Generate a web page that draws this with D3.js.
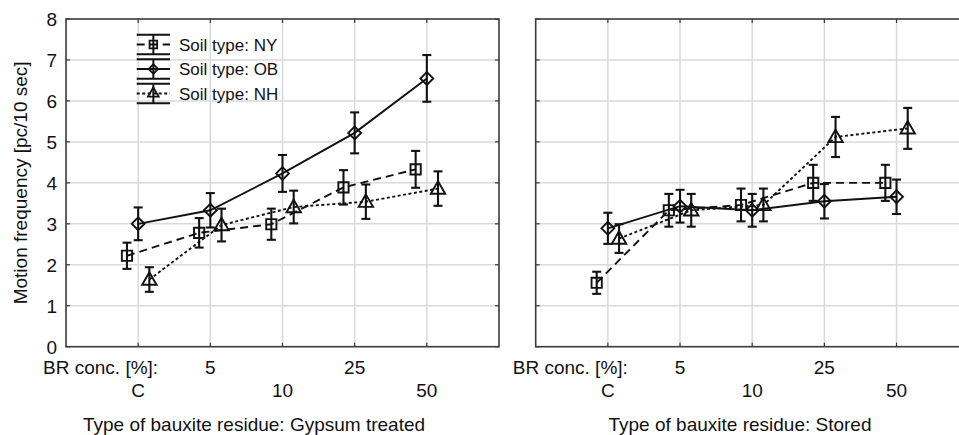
<!DOCTYPE html>
<html>
<head>
<meta charset="utf-8">
<script src="https://cdn.jsdelivr.net/npm/d3@7"></script>
<style>
  html, body { margin: 0; padding: 0; background: #fff; }
  svg { display: block; font-family: "Liberation Sans", Arial, sans-serif; }
</style>
</head>
<body>
<svg id="chart" width="959" height="435"></svg>
<script>
// ---------- data ----------
const categories = ["C", "5", "10", "25", "50"];
const yTicks = [0, 1, 2, 3, 4, 5, 6, 7, 8];
const seriesNames = ["Soil type: NY", "Soil type: OB", "Soil type: NH"];
const panelTitles = ["Type of bauxite residue: Gypsum treated", "Type of bauxite residue: Stored"];
const yLabel = "Motion frequency [pc/10 sec]";
const xRowLabel = "BR conc. [%]:";

// Gypsum treated
const gypsumNY = [2.22, 2.78, 2.99, 3.89, 4.33];
const gypsumNYErr = [0.32, 0.36, 0.38, 0.42, 0.45];
const gypsumOB = [3.00, 3.33, 4.23, 5.22, 6.55];
const gypsumOBErr = [0.40, 0.42, 0.45, 0.50, 0.57];
const gypsumNH = [1.64, 2.97, 3.41, 3.54, 3.86];
const gypsumNHErr = [0.30, 0.40, 0.40, 0.42, 0.42];
// Stored
const storedNY = [1.56, 3.33, 3.46, 4.00, 4.00];
const storedNYErr = [0.27, 0.40, 0.40, 0.44, 0.44];
const storedOB = [2.89, 3.43, 3.33, 3.55, 3.66];
const storedOBErr = [0.38, 0.40, 0.40, 0.42, 0.42];
const storedNH = [2.64, 3.33, 3.46, 5.12, 5.33];
const storedNHErr = [0.35, 0.40, 0.40, 0.49, 0.50];

// ---------- style ----------
const styles = [
  { dash: "8,5", symbol: d3.symbolSquare, size: 105, rot: 0, dy: 0, offset: -0.155 },
  { dash: null, symbol: d3.symbolSquare, size: 82, rot: 45, dy: 0, offset: 0 },
  { dash: "3,2.5", symbol: d3.symbolTriangle, size: 90, rot: 0, dy: 1, offset: 0.155 }
];

const panels = [
  { left: 66, right: 499, title: panelTitles[0], showY: true, titleX: 254,
    series: [[gypsumNY, gypsumNYErr], [gypsumOB, gypsumOBErr], [gypsumNH, gypsumNHErr]] },
  { left: 535.7, right: 968.7, title: panelTitles[1], showY: false, titleX: 740,
    series: [[storedNY, storedNYErr], [storedOB, storedOBErr], [storedNH, storedNHErr]] }
];

const plotTop = 19, plotBottom = 346.7;
const svg = d3.select("#chart");
const y = d3.scaleLinear().domain([0, 8]).range([plotBottom, plotTop]);
const gridColor = "#d9d9d9";
const frameColor = "#3a3a3a";
const ink = "#111";

panels.forEach((p, pi) => {
  const x = d3.scaleLinear().domain([-1, 5]).range([p.left, p.right]);
  const g = svg.append("g");

  // grid
  g.selectAll(".hg").data(yTicks.slice(1, -1)).join("line")
    .attr("x1", p.left).attr("x2", p.right)
    .attr("y1", d => y(d)).attr("y2", d => y(d))
    .attr("stroke", gridColor).attr("stroke-width", 1.5);
  g.selectAll(".vg").data(categories).join("line")
    .attr("x1", (d, i) => x(i)).attr("x2", (d, i) => x(i))
    .attr("y1", plotTop).attr("y2", plotBottom)
    .attr("stroke", gridColor).attr("stroke-width", 1.5);

  // inward ticks
  const tl = 4;
  g.selectAll(".tl").data(yTicks).join("line")
    .attr("x1", p.left).attr("x2", p.left + tl)
    .attr("y1", d => y(d)).attr("y2", d => y(d))
    .attr("stroke", frameColor).attr("stroke-width", 1.2);
  g.selectAll(".tr").data(yTicks).join("line")
    .attr("x1", p.right).attr("x2", p.right - tl)
    .attr("y1", d => y(d)).attr("y2", d => y(d))
    .attr("stroke", frameColor).attr("stroke-width", 1.2);
  g.selectAll(".tb").data(categories).join("line")
    .attr("x1", (d, i) => x(i)).attr("x2", (d, i) => x(i))
    .attr("y1", plotBottom).attr("y2", plotBottom - tl)
    .attr("stroke", frameColor).attr("stroke-width", 1.2);
  g.selectAll(".tt").data(categories).join("line")
    .attr("x1", (d, i) => x(i)).attr("x2", (d, i) => x(i))
    .attr("y1", plotTop).attr("y2", plotTop + tl)
    .attr("stroke", frameColor).attr("stroke-width", 1.2);

  // frame
  g.append("rect").attr("x", p.left).attr("y", plotTop)
    .attr("width", p.right - p.left).attr("height", plotBottom - plotTop)
    .attr("fill", "none").attr("stroke", frameColor).attr("stroke-width", 1.6);

  // y tick labels
  if (p.showY) {
    g.selectAll(".yl").data(yTicks).join("text")
      .attr("x", p.left - 9).attr("y", d => y(d)).attr("dy", "0.36em")
      .attr("text-anchor", "end").attr("font-size", 19).attr("fill", ink)
      .text(d => d);
  }

  // category labels (two rows)
  g.selectAll(".xl").data(categories).join("text")
    .attr("x", (d, i) => x(i))
    .attr("y", (d, i) => i % 2 === 1 ? 374 : 396.5)
    .attr("text-anchor", "middle").attr("font-size", 19).attr("fill", ink)
    .text(d => d);
  g.append("text").attr("x", x(0) + 20).attr("y", 374)
    .attr("text-anchor", "end").attr("font-size", 19).attr("fill", ink)
    .text(xRowLabel);

  // panel title
  g.append("text").attr("x", p.titleX).attr("y", 431)
    .attr("text-anchor", "middle").attr("font-size", 19).attr("fill", ink)
    .text(p.title);

  // series
  p.series.forEach(([vals, errs], si) => {
    const st = styles[si];
    const pts = vals.map((v, i) => ({ x: x(i + st.offset), y: y(v), lo: y(v - errs[i]), hi: y(v + errs[i]) }));
    const line = d3.line().x(d => d.x).y(d => d.y);
    g.append("path").attr("d", line(pts)).attr("fill", "none")
      .attr("stroke", ink).attr("stroke-width", 1.9)
      .attr("stroke-dasharray", st.dash);
    // markers
    g.selectAll(null).data(pts).join("path")
      .attr("d", d3.symbol().type(st.symbol).size(st.size))
      .attr("transform", d => `translate(${d.x},${d.y + st.dy}) rotate(${st.rot})`)
      .attr("fill", "none").attr("stroke", ink).attr("stroke-width", 1.9);
    // error bars
    const eb = g.selectAll(null).data(pts).join("g");
    eb.append("line").attr("x1", d => d.x).attr("x2", d => d.x)
      .attr("y1", d => d.lo).attr("y2", d => d.hi)
      .attr("stroke", ink).attr("stroke-width", 2.1);
    eb.append("line").attr("x1", d => d.x - 4.5).attr("x2", d => d.x + 4.5)
      .attr("y1", d => d.hi).attr("y2", d => d.hi)
      .attr("stroke", ink).attr("stroke-width", 2.1);
    eb.append("line").attr("x1", d => d.x - 4.5).attr("x2", d => d.x + 4.5)
      .attr("y1", d => d.lo).attr("y2", d => d.lo)
      .attr("stroke", ink).attr("stroke-width", 2.1);
  });

  // y axis label
  if (p.showY) {
    svg.append("text")
      .attr("transform", `translate(27,${(plotTop + plotBottom) / 2}) rotate(-90)`)
      .attr("text-anchor", "middle").attr("font-size", 19).attr("fill", ink)
      .text(yLabel);
  }
});

// ---------- legend ----------
const legX0 = 136.7, legX1 = 170, legTextX = 179;
const legRows = [44.5, 69, 93.5];
const legend = svg.append("g");
seriesNames.forEach((name, si) => {
  const st = styles[si];
  const cy = legRows[si];
  const cx = (legX0 + legX1) / 2;
  const lg = legend.append("g");
  lg.append("line").attr("x1", legX0).attr("x2", legX1).attr("y1", cy - 9.7).attr("y2", cy - 9.7)
    .attr("stroke", ink).attr("stroke-width", 2);
  lg.append("line").attr("x1", legX0).attr("x2", legX1).attr("y1", cy + 9.7).attr("y2", cy + 9.7)
    .attr("stroke", ink).attr("stroke-width", 2);
  lg.append("line").attr("x1", cx).attr("x2", cx).attr("y1", cy - 9.7).attr("y2", cy + 9.7)
    .attr("stroke", ink).attr("stroke-width", 2);
  lg.append("line").attr("x1", legX0).attr("x2", legX1).attr("y1", cy).attr("y2", cy)
    .attr("stroke", ink).attr("stroke-width", 1.9).attr("stroke-dasharray", st.dash);
  lg.append("path").attr("d", d3.symbol().type(st.symbol).size(st.size * 0.55))
    .attr("transform", `translate(${cx},${cy}) rotate(${st.rot})`)
    .attr("fill", "none").attr("stroke", ink).attr("stroke-width", 1.8);
  lg.append("text").attr("x", legTextX).attr("y", cy).attr("dy", "0.36em")
    .attr("font-size", 17).attr("fill", ink).text(name);
});
</script>
</body>
</html>
